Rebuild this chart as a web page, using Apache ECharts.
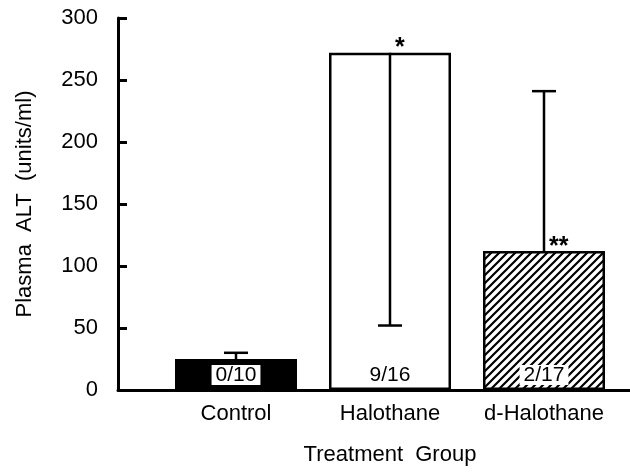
<!DOCTYPE html>
<html>
<head>
<meta charset="utf-8">
<script src="https://cdn.jsdelivr.net/npm/echarts@6/dist/echarts.min.js"></script>
<style>
  html, body { margin: 0; padding: 0; background: #fff; }
  #main { width: 630px; height: 472px; }
</style>
</head>
<body>
<div id="main"></div>
<script>
var groups = ['Control', 'Halothane', 'd-Halothane'];
var meanALT = [25, 272, 112];
var errEnd = [30, 52, 241];       // visible end of each error bar
var incidence = ['0/10', '9/16', '2/17'];
var stars = ['', '*', '**'];
var yTicks = [0, 50, 100, 150, 200, 250, 300];

var FONT = '"Liberation Sans", Arial, Helvetica, sans-serif';

// diagonal hatch tile for d-Halothane
var tile = document.createElement('canvas');
tile.width = 8; tile.height = 8;
var g = tile.getContext('2d');
g.fillStyle = '#fff';
g.fillRect(0, 0, 8, 8);
g.strokeStyle = '#000';
g.lineWidth = 2.2;
g.beginPath();
g.moveTo(-2, 10); g.lineTo(10, -2);
g.moveTo(-6, 6); g.lineTo(6, -6);
g.moveTo(2, 14); g.lineTo(14, 2);
g.stroke();

var fills = ['#000', '#fff', { image: tile, repeat: 'repeat' }];
var labelBg = ['#fff', 'transparent', '#fff'];

var barData = meanALT.map(function (v, i) {
  return {
    value: v,
    itemStyle: { color: fills[i] },
    label: { backgroundColor: labelBg[i] }
  };
});

var errData = meanALT.map(function (v, i) {
  return [i, v, errEnd[i]];
});

function renderErr(params, api) {
  var i = params.dataIndex;
  var top = api.coord([api.value(0), api.value(1)]);
  var end = api.coord([api.value(0), api.value(2)]);
  var st = { stroke: '#000', lineWidth: 2.5 };
  var kids = [
    { type: 'line', shape: { x1: top[0], y1: top[1], x2: end[0], y2: end[1] }, style: st },
    { type: 'line', shape: { x1: end[0] - 12, y1: end[1], x2: end[0] + 12, y2: end[1] }, style: st }
  ];
  if (stars[i]) {
    kids.push({
      type: 'text',
      style: {
        text: stars[i], x: top[0] + 5, y: top[1] + 8,
        textAlign: 'left', textVerticalAlign: 'bottom',
        font: 'bold 25px ' + FONT, fill: '#000'
      }
    });
  }
  return { type: 'group', children: kids };
}

var chart = echarts.init(document.getElementById('main'));
chart.setOption({
  backgroundColor: '#fff',
  animation: false,
  grid: [
    { left: 159, right: 9, top: 18, bottom: 82 },
    { left: 118, right: 0, top: 18, bottom: 82 }
  ],
  xAxis: [
    {
      type: 'category',
      gridIndex: 0,
      data: groups,
      axisLine: { show: false },
      axisTick: { show: false },
      axisLabel: { color: '#000', fontSize: 22, fontFamily: FONT, margin: 13, interval: 0, hideOverlap: false },
      name: 'Treatment  Group',
      nameLocation: 'middle',
      nameGap: 54,
      nameTextStyle: { color: '#000', fontSize: 22, fontFamily: FONT }
    },
    {
      type: 'value',
      gridIndex: 1,
      min: 0, max: 1,
      axisLine: { show: true, lineStyle: { color: '#000', width: 3 } },
      axisTick: { show: false },
      axisLabel: { show: false },
      splitLine: { show: false }
    }
  ],
  yAxis: [
    {
      type: 'value',
      gridIndex: 0,
      min: yTicks[0],
      max: yTicks[yTicks.length - 1],
      interval: 50,
      offset: 41,
      axisLine: { show: true, lineStyle: { color: '#000', width: 3 } },
      axisTick: { show: true, inside: true, length: 9, lineStyle: { color: '#000', width: 3 } },
      axisLabel: { color: '#000', fontSize: 22, fontFamily: FONT, margin: 20 },
      splitLine: { show: false },
      name: 'Plasma  ALT  (units/ml)',
      nameLocation: 'middle',
      nameGap: 82,
      nameTextStyle: { color: '#000', fontSize: 22, fontFamily: FONT }
    },
    {
      type: 'value',
      gridIndex: 1,
      min: 0, max: 300,
      show: false
    }
  ],
  series: [
    {
      type: 'bar',
      xAxisIndex: 0,
      yAxisIndex: 0,
      data: barData,
      barWidth: 122,
      itemStyle: { borderColor: '#000', borderWidth: 2.5 },
      label: {
        show: true,
        position: 'insideBottom',
        distance: 5,
        formatter: function (p) { return incidence[p.dataIndex]; },
        color: '#000',
        fontSize: 21,
        fontFamily: FONT,
        padding: [0, 4, -1, 4]
      },
      z: 2
    },
    {
      type: 'custom',
      xAxisIndex: 0,
      yAxisIndex: 0,
      data: errData,
      renderItem: renderErr,
      z: 3
    }
  ]
});
</script>
</body>
</html>
